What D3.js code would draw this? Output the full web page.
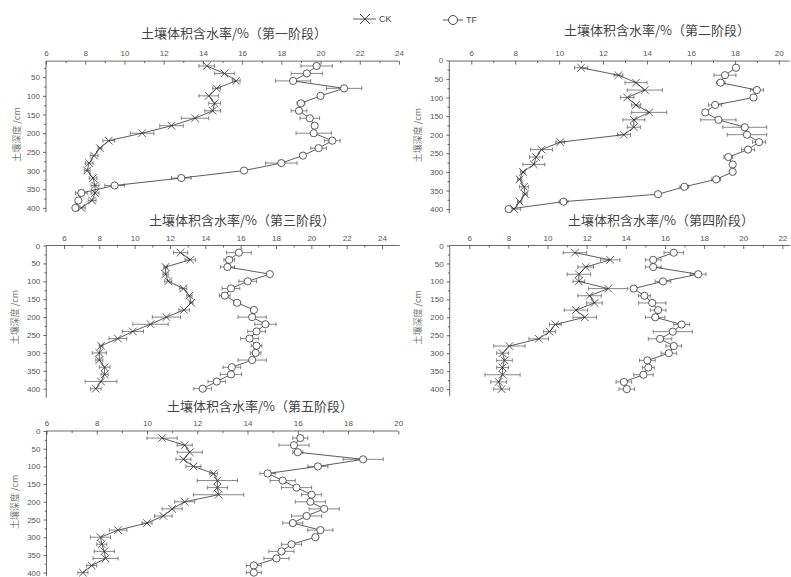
<!doctype html>
<html lang="zh">

<head>
    <meta charset="UTF-8">
    <title>土壤体积含水率</title>
    <style>
        body { margin: 0; background: #fff; }
        .tick text { font-family: "Liberation Sans", Arial, sans-serif; font-size: 8px; fill: #555; }
        .axis path, .axis line { stroke: #444; stroke-width: 0.8px; }
    </style>
</head>

<body>
    <svg width="791" height="577"></svg>
    <script type="text/javascript" src="https://cdn.jsdelivr.net/npm/d3@7/dist/d3.min.js"></script>
    <script type="text/javascript">
    // 深度 (cm)
    var depths = [20, 40, 60, 80, 100, 120, 140, 160, 180, 200, 220, 240, 260, 280, 300, 320, 340, 360, 380, 400];
    var stages = ['第一阶段', '第二阶段', '第三阶段', '第四阶段', '第五阶段'];

    // 第一阶段
    var ck1 = [14.2, 15.1, 15.7, 14.7, 14.3, 14.6, 14.5, 13.6, 12.4, 10.9, 9.2, 8.75, 8.45, 8.2, 8.1, 8.4, 8.5, 8.5, 8.35, 7.8];
    var ckErr1 = [0.4, 0.5, 0.2, 0.2, 0.5, 0.3, 0.4, 0.7, 0.6, 0.6, 0.3, 0.1, 0.2, 0.2, 0.15, 0.2, 0.2, 0.2, 0.2, 0.2];
    var tf1 = [19.8, 19.3, 18.6, 21.2, 20.0, 19.0, 18.9, 19.45, 19.7, 19.65, 20.6, 19.9, 19.1, 18.0, 16.1, 12.9, 9.5, 7.8, 7.65, 7.5];
    var tfErr1 = [0.8, 0.8, 0.9, 0.9, 0.1, 0.2, 0.4, 0.5, 0.1, 0.9, 0.4, 0.4, 0.1, 0.8, 0.1, 0.5, 0.5, 0.3, 0.1, 0.1];
    // 第二阶段
    var ck2 = [11.0, 12.7, 13.5, 13.9, 13.1, 13.5, 14.1, 13.4, 13.4, 12.95, 10.05, 9.2, 8.95, 8.85, 8.35, 8.2, 8.4, 8.45, 8.2, 7.95];
    var ckErr2 = [0.3, 0.2, 0.5, 0.8, 0.3, 0.2, 0.8, 0.5, 0.3, 0.3, 0.2, 0.5, 0.3, 0.5, 0.1, 0.1, 0.2, 0.1, 0.1, 0.3];
    var tf2 = [18.05, 17.55, 17.35, 19.0, 18.85, 17.1, 16.65, 17.25, 18.45, 18.55, 19.1, 18.6, 17.7, 17.9, 17.9, 17.15, 15.7, 14.5, 10.2, 7.7];
    var tfErr2 = [0.05, 0.5, 0.2, 0.3, 0.1, 0.3, 0.1, 0.8, 1.0, 0.9, 0.3, 0.3, 0.2, 0.1, 0.1, 0.2, 0.2, 0.1, 0.2, 0.1];
    // 第三阶段
    var ck3 = [12.6, 13.15, 11.75, 11.75, 11.9, 12.75, 13.1, 13.2, 12.8, 11.8, 10.9, 9.9, 9.05, 8.1, 8.0, 8.0, 8.3, 8.3, 8.1, 7.8];
    var ckErr3 = [0.4, 0.3, 0.1, 0.15, 0.2, 0.2, 0.15, 0.1, 0.3, 0.8, 1.0, 0.6, 0.5, 0.1, 0.4, 0.2, 0.3, 0.2, 0.9, 0.3];
    var tf3 = [15.9, 15.35, 15.25, 17.65, 16.4, 15.45, 15.1, 15.8, 16.75, 16.65, 17.4, 16.9, 16.5, 16.9, 16.85, 16.65, 15.5, 15.45, 14.65, 13.85];
    var tfErr3 = [0.7, 0.3, 0.4, 0.1, 0.5, 0.5, 0.3, 0.2, 0.1, 0.8, 0.6, 0.5, 0.5, 0.3, 0.3, 0.8, 0.5, 0.6, 0.5, 0.5];
    // 第四阶段
    var ck4 = [11.4, 13.2, 11.95, 11.6, 11.6, 13.1, 12.15, 12.4, 11.45, 11.9, 10.4, 10.1, 9.55, 8.05, 7.7, 7.8, 7.7, 7.7, 7.5, 7.65];
    var ckErr4 = [0.6, 0.5, 0.4, 0.6, 0.3, 1.0, 0.6, 0.4, 0.6, 0.6, 0.3, 0.3, 0.5, 0.8, 0.3, 0.4, 0.3, 0.9, 0.4, 0.4];
    var tf4 = [16.45, 15.4, 15.4, 17.7, 15.9, 14.4, 14.95, 15.35, 15.65, 15.5, 16.85, 16.4, 15.75, 16.45, 16.2, 15.1, 15.15, 14.9, 13.9, 14.05];
    var tfErr4 = [0.5, 0.4, 0.4, 0.4, 0.4, 0.1, 0.3, 0.7, 0.4, 0.5, 0.4, 1.0, 0.6, 0.4, 0.4, 0.4, 0.3, 0.5, 0.4, 0.4];
    // 第五阶段
    var ck5 = [10.6, 11.5, 11.7, 11.45, 11.85, 12.65, 12.8, 12.8, 12.85, 11.5, 11.0, 10.65, 10.0, 8.85, 8.15, 8.2, 8.3, 8.35, 7.8, 7.45];
    var ckErr5 = [0.6, 0.3, 0.5, 0.3, 0.3, 0.15, 0.8, 0.4, 1.0, 0.4, 0.4, 0.35, 0.2, 0.35, 0.4, 0.2, 0.4, 0.5, 0.2, 0.2];
    var tf5 = [16.1, 15.85, 16.0, 18.6, 16.8, 14.8, 15.4, 15.95, 16.55, 16.5, 17.05, 16.35, 15.8, 16.9, 16.7, 15.75, 15.35, 15.15, 14.25, 14.25];
    var tfErr5 = [0.3, 0.6, 0.2, 0.8, 0.4, 0.3, 0.5, 0.6, 0.4, 0.6, 0.6, 0.6, 0.4, 0.5, 0.1, 0.4, 0.5, 0.5, 0.3, 0.3];

    var ckSeries = [ck1, ck2, ck3, ck4, ck5];
    var ckErrs = [ckErr1, ckErr2, ckErr3, ckErr4, ckErr5];
    var tfSeries = [tf1, tf2, tf3, tf4, tf5];
    var tfErrs = [tfErr1, tfErr2, tfErr3, tfErr4, tfErr5];

    // 各面板的位置 (x: 数值范围 -> 像素, y: 0cm 像素位置 + 每cm像素)
    var panels = [
        { xd: [6, 24], xr: [46, 399], xMax: 24, y0: 58.5, k: 0.3735, yTop: 7, yBot: 412, yTicks0: 50, tx: 234, ty: 38, lx: 17 },
        { xd: [5, 20.5], xr: [449.3, 789.8], xMax: 20, y0: 60.3, k: 0.372, yTop: 2, yBot: 412, yTicks0: 0, tx: 657, ty: 35, lx: 418 },
        { xd: [5, 25], xr: [46.3, 399.7], xMax: 24, y0: 245.5, k: 0.358, yTop: 0, yBot: 425, yTicks0: 0, tx: 242, ty: 225, lx: 15 },
        { xd: [5, 22.4], xr: [449.7, 790.2], xMax: 22, y0: 245.5, k: 0.359, yTop: 0, yBot: 420, yTicks0: 0, tx: 661, ty: 225, lx: 418 },
        { xd: [6, 20], xr: [46.5, 398.3], xMax: 20, y0: 431, k: 0.354, yTop: 0, yBot: 410, yTicks0: 0, tx: 260, ty: 411, lx: 15 }
    ];

    var svg = d3.select('svg');

    panels.forEach(function(p, i) {
        var g = svg.append('g').classed('panel', true);
        var x = d3.scaleLinear().domain(p.xd).range(p.xr);
        var y = d3.scaleLinear().domain([0, 400]).range([p.y0, p.y0 + 400 * p.k]);
        var top = y(p.yTop);
        var left = p.xr[0];

        // 标题
        g.append('text')
            .text('土壤体积含水率/%（' + stages[i] + '）')
            .attr('x', p.tx)
            .attr('y', p.ty)
            .attr('text-anchor', 'middle')
            .style('font-family', '"Noto Sans CJK SC", sans-serif')
            .style('font-size', '13px')
            .style('fill', '#444');

        // 纵轴标题
        var ly = (y(p.yTop) + y(400)) / 2;
        g.append('text')
            .text('土壤深度 /cm')
            .attr('transform', 'translate(' + (p.lx + 3) + ',' + ly + ') rotate(-90)')
            .attr('text-anchor', 'middle')
            .style('font-family', '"Noto Sans CJK SC", sans-serif')
            .style('font-size', '9px')
            .style('fill', '#777');

        // x轴 (顶部, 刻度朝内)
        var xMajor = d3.range(6, p.xMax + 0.1, 2);
        var xMinor = d3.range(5, p.xd[1], 1).filter(function(v) { return v % 2 === 1 && v > p.xd[0]; });
        var xAxis = g.append('g')
            .classed('axis', true)
            .attr('transform', 'translate(0,' + top + ')')
            .call(d3.axisTop(x).tickValues(xMajor).tickFormat(d3.format('d')).tickSizeInner(-3.5).tickSizeOuter(0).tickPadding(5));
        xAxis.select('.domain').attr('d', 'M' + left + ',0H' + p.xr[1]);
        g.append('g')
            .classed('axis', true)
            .attr('transform', 'translate(0,' + top + ')')
            .call(d3.axisTop(x).tickValues(xMinor).tickFormat('').tickSizeInner(-2).tickSizeOuter(0))
            .select('.domain').remove();

        // y轴 (左侧)
        var yMajor = d3.range(p.yTicks0, 401, 50);
        var yMinor = d3.range(25, 401, 50);
        var yAxis = g.append('g')
            .classed('axis', true)
            .attr('transform', 'translate(' + left + ',0)')
            .call(d3.axisLeft(y).tickValues(yMajor).tickSizeInner(3).tickSizeOuter(0).tickPadding(3));
        yAxis.select('.domain').attr('d', 'M0,' + top + 'V' + y(p.yBot));
        g.append('g')
            .classed('axis', true)
            .attr('transform', 'translate(' + left + ',0)')
            .call(d3.axisLeft(y).tickValues(yMinor).tickFormat('').tickSizeInner(1.8).tickSizeOuter(0))
            .select('.domain').remove();

        drawSeries(g, x, y, ckSeries[i], ckErrs[i], 'ck');
        drawSeries(g, x, y, tfSeries[i], tfErrs[i], 'tf');
    });

    function drawSeries(g, x, y, vals, errs, type) {
        var s = g.append('g').classed('series-' + type, true);
        // 误差线
        var eb = s.selectAll('g.err')
            .data(vals)
            .enter()
            .append('g')
            .classed('err', true)
            .style('stroke', '#555')
            .style('stroke-width', '0.7px');
        eb.append('line')
            .attr('x1', function(d, i) { return x(d - errs[i]); })
            .attr('x2', function(d, i) { return x(d + errs[i]); })
            .attr('y1', function(d, i) { return y(depths[i]); })
            .attr('y2', function(d, i) { return y(depths[i]); });
        [-1, 1].forEach(function(sgn) {
            eb.append('line')
                .attr('x1', function(d, i) { return x(d + sgn * errs[i]); })
                .attr('x2', function(d, i) { return x(d + sgn * errs[i]); })
                .attr('y1', function(d, i) { return y(depths[i]) - 2; })
                .attr('y2', function(d, i) { return y(depths[i]) + 2; });
        });

        // 折线
        var line = d3.line()
            .x(function(d) { return x(d); })
            .y(function(d, i) { return y(depths[i]); });
        s.append('path')
            .attr('d', line(vals))
            .attr('fill', 'none')
            .attr('stroke', '#333')
            .attr('stroke-width', '0.8px');

        // 标记
        if (type === 'tf') {
            s.selectAll('circle')
                .data(vals)
                .enter()
                .append('circle')
                .attr('cx', function(d) { return x(d); })
                .attr('cy', function(d, i) { return y(depths[i]); })
                .attr('r', 3.6)
                .attr('fill', '#fff')
                .attr('stroke', '#333')
                .attr('stroke-width', '0.8px');
        } else {
            s.selectAll('path.mark')
                .data(vals)
                .enter()
                .append('path')
                .classed('mark', true)
                .attr('d', function(d, i) {
                    var cx = x(d), cy = y(depths[i]), r = 3.8;
                    return 'M' + (cx - r) + ',' + (cy - r) + 'L' + (cx + r) + ',' + (cy + r) +
                        'M' + (cx - r) + ',' + (cy + r) + 'L' + (cx + r) + ',' + (cy - r);
                })
                .attr('stroke', '#333')
                .attr('stroke-width', '0.8px')
                .attr('fill', 'none');
        }
    }

    // 图例
    var legend = svg.append('g').classed('legend', true);
    var ckL = legend.append('g').attr('transform', 'translate(365,19)');
    ckL.append('line').attr('x1', -12).attr('x2', 11).attr('stroke', '#333').attr('stroke-width', 0.8);
    ckL.append('path').attr('d', 'M-5,-5L5,5M-5,5L5,-5').attr('stroke', '#333').attr('stroke-width', 0.9);
    ckL.append('text').text('CK').attr('x', 14).attr('y', 3)
        .style('font-family', '"Liberation Sans", Arial, sans-serif').style('font-size', '9px').style('fill', '#444');
    var tfL = legend.append('g').attr('transform', 'translate(453,20)');
    tfL.append('line').attr('x1', -10).attr('x2', 10).attr('stroke', '#333').attr('stroke-width', 0.8);
    tfL.append('circle').attr('r', 4.5).attr('fill', '#fff').attr('stroke', '#333').attr('stroke-width', 0.9);
    tfL.append('text').text('TF').attr('x', 13).attr('y', 3)
        .style('font-family', '"Liberation Sans", Arial, sans-serif').style('font-size', '9px').style('fill', '#444');
    </script>
</body>

</html>
